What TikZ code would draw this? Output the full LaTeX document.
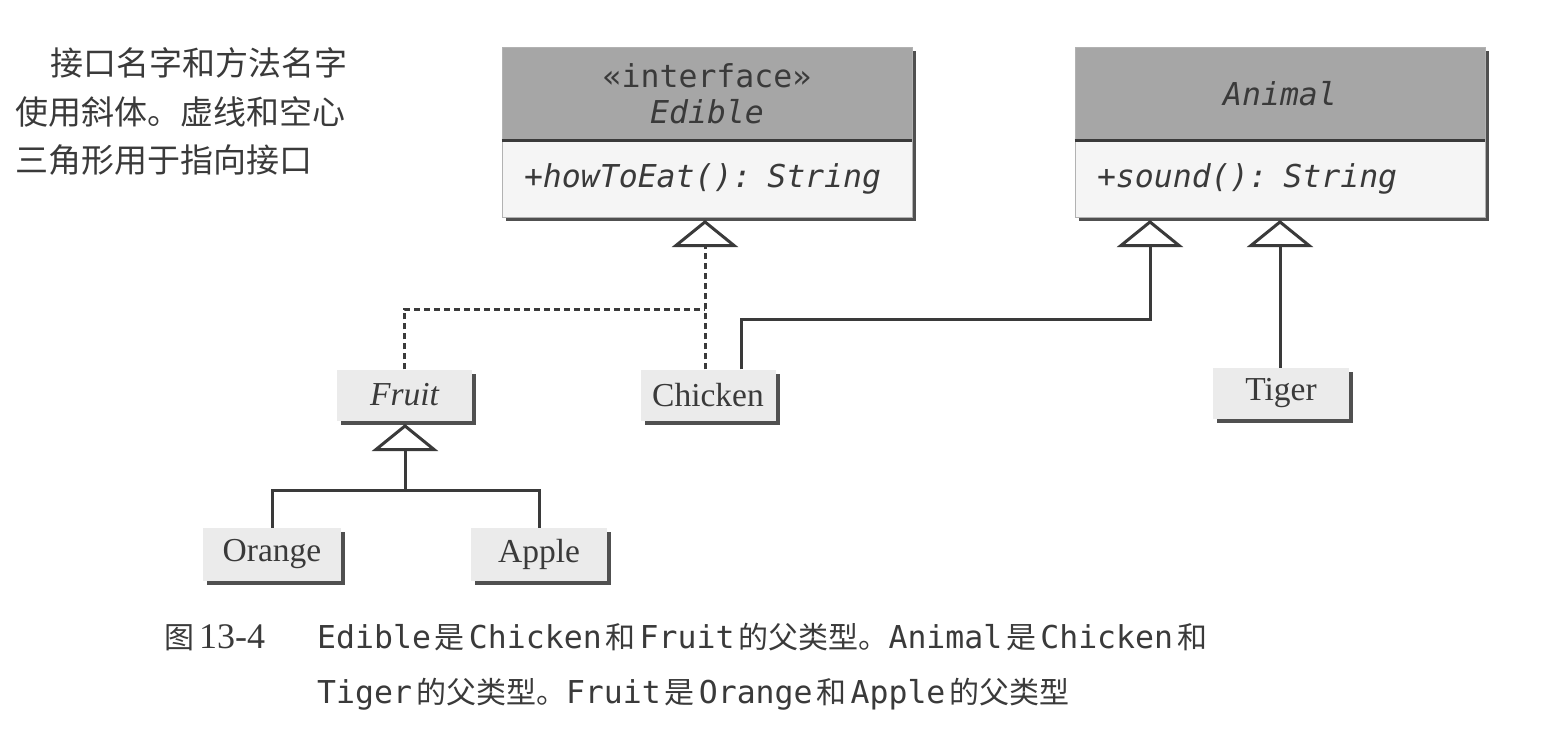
\documentclass[tikz,border=0pt]{standalone}
\usepackage{fontspec}
\setmainfont{Liberation Serif}
\newfontfamily\monof{DejaVu Sans Mono}
\newfontfamily\cjk{Noto Sans CJK SC}
\usetikzlibrary{arrows.meta,shadows}
\definecolor{ink}{HTML}{3A3A3A}
\definecolor{hdr}{HTML}{A6A6A6}
\definecolor{bodyc}{HTML}{F5F5F5}
\definecolor{boxc}{HTML}{EBEBEB}
\definecolor{shd}{HTML}{505050}
\begin{document}
\begin{tikzpicture}[x=1pt,y=-1pt,
  shadowed/.style={drop shadow={shadow xshift=4pt,shadow yshift=-4pt,fill=shd,opacity=1}},
  smallbox/.style={shadowed,rectangle,fill=boxc,inner sep=0pt,minimum height=51pt,text=ink,
    font=\fontsize{33.5}{38}\selectfont},
  hdrbox/.style={shadowed,rectangle,fill=hdr,draw=black!30,line width=0.6pt,inner sep=0pt,
    minimum width=410pt,minimum height=93pt,align=center,text=ink,
    font=\monof\fontsize{31.5}{36}\selectfont},
  bodybox/.style={shadowed,rectangle,fill=bodyc,draw=black!30,line width=0.6pt,inner xsep=22pt,inner ysep=0pt,
    text width=366pt,minimum height=77pt,align=left,text=ink,
    font=\monof\itshape\fontsize{31.5}{36}\selectfont},
  conn/.style={line width=3pt,draw=ink},
  gen/.style={conn,-{Triangle[length=27pt,width=66pt,fill=white]}},
  realize/.style={gen,dash pattern=on 6pt off 4pt},
  divider/.style={draw=ink,line width=2.5pt},
  note/.style={anchor=base west,inner sep=0pt,text=ink,font=\cjk\fontsize{33}{40}\selectfont},
  captxt/.style={anchor=base west,inner sep=0pt,text=ink}
]
\useasboundingbox (0,0) rectangle (1568,732);

% class boxes
\node[hdrbox] (edibleH) at (707,93.5) {«interface»\\\itshape Edible};
\node[bodybox] (edibleB) at (707,178.5) {+howToEat(): String};
\draw[divider] (edibleH.south west) -- (edibleH.south east);

\node[hdrbox] (animalH) at (1280,93.5) {\itshape Animal};
\node[bodybox] (animalB) at (1280,178.5) {+sound(): String};
\draw[divider] (animalH.south west) -- (animalH.south east);

% small boxes
\node[smallbox,minimum width=135pt] (fruit) at (404.5,395) {\itshape Fruit};
\node[smallbox,minimum width=135pt] (chicken) at (708,395) {Chicken};
\node[smallbox,minimum width=136pt] (tiger) at (1281,393.5) {Tiger};
\node[smallbox,minimum width=138pt,minimum height=53pt] (orange) at (272,554.5) {Orange};
\node[smallbox,minimum width=136pt,minimum height=53pt] (apple) at (539,554.5) {Apple};

% coordinates
\coordinate (edtip) at (705,220);
\coordinate (ej) at (705,309);
\coordinate (cj) at (741,319);
\coordinate (antip1) at (1150,220);
\coordinate (antip2) at (1280,220);
\coordinate (fj) at (405,490);
\coordinate (frtip) at (405,424);

% connectors
\draw[conn,dash pattern=on 6pt off 4pt] (fruit.north) |- (ej);
\draw[realize] (chicken.north -| ej) -- (edtip);
\draw[gen] (chicken.north -| cj) -- (cj) -| (antip1);
\draw[gen] (tiger.north -| antip2) -- (antip2);
\draw[conn] (orange.north) |- (fj) -| (apple.north);
\draw[gen] (fj) -- (frtip);

% note
\node[note] (n1) at (50,75) {接口名字和方法名字};
\node[note] (n2) at (15,124) {使用斜体。虚线和空心};
\node[note] (n3) at (15,172) {三角形用于指向接口};

% caption
\node[captxt] (capnum) at (164,648) {{\cjk\fontsize{30}{36}\selectfont 图}\hspace{5pt}{\fontsize{36}{40}\selectfont 13-4}};
\node[captxt] (cap1) at (317,648) {\monof\fontsize{31.5}{36}\selectfont Edible\hspace{4pt}{\cjk\fontsize{30}{36}\selectfont 是}\hspace{4pt}Chicken\hspace{4pt}{\cjk\fontsize{30}{36}\selectfont 和}\hspace{4pt}Fruit\hspace{4pt}{\cjk\fontsize{30}{36}\selectfont 的父类型。}Animal\hspace{4pt}{\cjk\fontsize{30}{36}\selectfont 是}\hspace{4pt}Chicken\hspace{4pt}{\cjk\fontsize{30}{36}\selectfont 和}};
\node[captxt] (cap2) at (317,703) {\monof\fontsize{31.5}{36}\selectfont Tiger\hspace{4pt}{\cjk\fontsize{30}{36}\selectfont 的父类型。}Fruit\hspace{4pt}{\cjk\fontsize{30}{36}\selectfont 是}\hspace{4pt}Orange\hspace{4pt}{\cjk\fontsize{30}{36}\selectfont 和}\hspace{4pt}Apple\hspace{4pt}{\cjk\fontsize{30}{36}\selectfont 的父类型}};
\end{tikzpicture}
\end{document}
